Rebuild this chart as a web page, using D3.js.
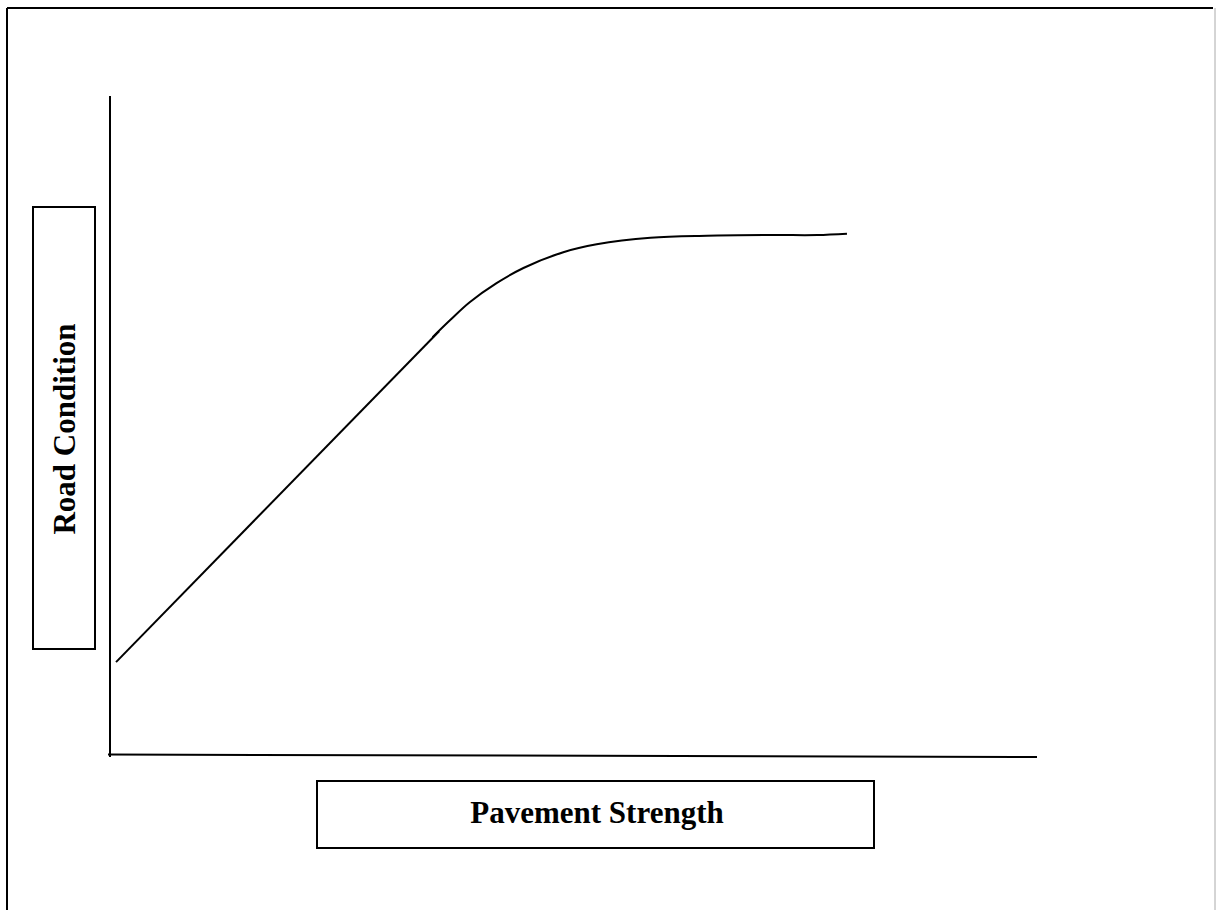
<!DOCTYPE html>
<html>
<head>
<meta charset="utf-8">
<script src="https://cdn.jsdelivr.net/npm/d3@7"></script>
<style>
  body { margin: 0; background: #fff; }
  svg { display: block; }
</style>
</head>
<body>
<div class="d3Chart"></div>
<script>
// straight part of the curve
var lineX = [0.65, 35.5];
var lineY = [14.1, 64.3];

// bend and plateau
var curveX = [34.8, 36.7, 38.8, 41.7, 44.6, 48.9, 52.5, 58.3, 64.4, 71.5, 76.3, 79.5];
var curveY = [63.4, 66.0, 68.7, 71.6, 73.9, 76.3, 77.5, 78.5, 78.8, 78.9, 78.9, 79.1];

var xTitle = "Pavement Strength";
var yTitle = "Road Condition";

var width = 1216;
var height = 910;

var svg = d3
  .select(".d3Chart")
  .append("svg")
  .attr("width", width)
  .attr("height", height);

// frame
svg.append("line").attr("x1", 7).attr("y1", 8).attr("x2", 1213).attr("y2", 8)
  .attr("stroke", "#000").attr("stroke-width", 2);
svg.append("line").attr("x1", 7).attr("y1", 8).attr("x2", 7).attr("y2", height)
  .attr("stroke", "#000").attr("stroke-width", 2);
svg.append("line").attr("x1", 1215).attr("y1", 8).attr("x2", 1215).attr("y2", height)
  .attr("stroke", "#aaa").attr("stroke-width", 1);

// scales
var x = d3.scaleLinear().domain([0, 100]).range([110, 1037]);
var y = d3.scaleLinear().domain([0, 100]).range([755, 96]);

// axes (plain lines, no ticks)
svg.append("line")
  .attr("x1", x(0)).attr("y1", y(100))
  .attr("x2", x(0)).attr("y2", 757)
  .attr("stroke", "#000").attr("stroke-width", 2);
svg.append("line")
  .attr("x1", 108).attr("y1", 754.5)
  .attr("x2", x(100)).attr("y2", 757)
  .attr("stroke", "#000").attr("stroke-width", 2);

var gen = d3.line()
  .x((d) => x(d[0]))
  .y((d) => y(d[1]));

svg.append("path")
  .attr("fill", "none")
  .attr("stroke", "#000")
  .attr("stroke-width", 2)
  .attr("d", gen(d3.zip(lineX, lineY)));

svg.append("path")
  .attr("fill", "none")
  .attr("stroke", "#000")
  .attr("stroke-width", 2)
  .attr("d", gen.curve(d3.curveCatmullRom.alpha(0.5))(d3.zip(curveX, curveY)));

// title boxes
svg.append("rect")
  .attr("x", 33).attr("y", 207).attr("width", 62).attr("height", 442)
  .attr("fill", "none").attr("stroke", "#000").attr("stroke-width", 2);
svg.append("text")
  .attr("transform", "translate(64,429) rotate(-90)")
  .attr("text-anchor", "middle")
  .attr("dy", "0.35em")
  .style("font-family", "'Liberation Serif', 'Times New Roman', serif")
  .style("font-weight", "bold")
  .style("font-size", "31px")
  .text(yTitle);

svg.append("rect")
  .attr("x", 317).attr("y", 781).attr("width", 557).attr("height", 67)
  .attr("fill", "none").attr("stroke", "#000").attr("stroke-width", 2);
svg.append("text")
  .attr("x", 597).attr("y", 823)
  .attr("text-anchor", "middle")
  .style("font-family", "'Liberation Serif', 'Times New Roman', serif")
  .style("font-weight", "bold")
  .style("font-size", "31px")
  .text(xTitle);
</script>
</body>
</html>
